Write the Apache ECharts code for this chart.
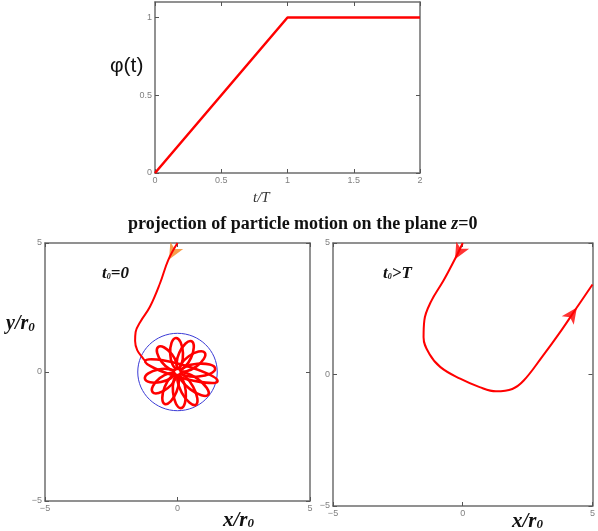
<!DOCTYPE html>
<html>
<head>
<meta charset="utf-8">
<script src="https://cdn.jsdelivr.net/npm/echarts@6/dist/echarts.min.js"></script>
<style>
  html, body { margin: 0; padding: 0; background: #fff; }
  #chart { width: 598px; height: 531px; }
</style>
</head>
<body>
<div id="chart"></div>
<script>
// phi(t) ramp
const phiT = [0, 1, 2];
const phiVal = [0, 1, 1];
const phiXTicks = [0, 0.5, 1, 1.5, 2];
const phiYTicks = [0, 0.5, 1];
const xyTicks = [-5, 0, 5];

// trajectory t0 = 0 (coming in from the top, then trapped)
const leftPath = [[0, 5], [-0.35, 4.34], [-0.66, 3.44], [-1.04, 2.53], [-1.4, 1.95],
  [-1.58, 1.55], [-1.6, 1.2], [-1.52, 0.85], [-1.3, 0.53], [-1.22, 0.43]];
// petals: [innerX, innerY, tipX, tipY]
const petals = [
  [-0.01, 0.12, -0.06, 1.32],
  [0.05, 0.11, 0.53, 1.19],
  [0.10, 0.07, 1.03, 0.75],
  [0.12, 0.01, 1.42, 0.13],
  [-1.22, 0.43, 1.51, -0.36],
  [0.10, -0.07, 1.16, -0.88],
  [0.06, -0.10, 0.69, -1.27],
  [0.01, -0.12, 0.13, -1.40],
  [-0.04, -0.11, -0.48, -1.24],
  [-0.09, -0.08, -0.94, -0.78],
  [-0.12, -0.03, -1.23, -0.26],
  [-0.07, 0.10, -0.73, 0.97]
];
const ringRadius = 1.5;
const leftArrows = [[-0.32, 4.36]];

// trajectory t0 > T (deflected)
const rightPath = [[0, 5], [-0.29, 4.41], [-0.73, 3.59], [-1.23, 2.76], [-1.48, 2.06],
  [-1.51, 1.42], [-1.29, 0.79], [-0.86, 0.28], [-0.1, -0.16], [0.65, -0.48],
  [1.28, -0.64], [1.91, -0.55], [2.35, -0.23], [3.05, 0.66], [3.8, 1.68],
  [4.37, 2.51], [5, 3.42]];
const rightArrowsDown = [[-0.3, 4.38]];
const rightArrowsUp = [[4.4, 2.55]];

const chart = echarts.init(document.getElementById('chart'));

function axis(grid, position, min, max, ticks, showLabel, fmt) {
  return {
    type: 'value', gridIndex: grid, position: position, min: min, max: max,
    splitLine: { show: false },
    axisLine: { show: true, onZero: false, lineStyle: { color: '#6e6e6e', width: 1.5 } },
    axisTick: { show: true, inside: true, length: 4, customValues: ticks,
      lineStyle: { color: '#555', width: 1 } },
    axisLabel: { show: showLabel, customValues: ticks, color: '#808080', fontSize: 9,
      fontFamily: 'Liberation Sans', margin: 3, formatter: fmt }
  };
}
const signFmt = v => (v < 0 ? '\u2212' + (-v) : String(v));

const serif = 'Liberation Serif';

function petalItem(params, api) {
  const a = api.coord([api.value(0), api.value(1)]);
  const b = api.coord([api.value(2), api.value(3)]);
  const dx = b[0] - a[0], dy = b[1] - a[1];
  return {
    type: 'ellipse',
    x: (a[0] + b[0]) / 2, y: (a[1] + b[1]) / 2,
    rotation: -Math.atan2(dy, dx),
    shape: { cx: 0, cy: 0, rx: Math.hypot(dx, dy) / 2, ry: 6.4 },
    style: { fill: 'none', stroke: '#ff0000', lineWidth: 2.6 }
  };
}

function ringItem(params, api) {
  const c = api.coord([api.value(0), api.value(1)]);
  const s = api.size([api.value(2), api.value(2)]);
  return {
    type: 'ellipse',
    shape: { cx: c[0], cy: c[1], rx: s[0], ry: s[1] },
    style: { fill: 'none', stroke: '#3b3bd6', lineWidth: 1 }
  };
}

const sub = (size, pad) => ({ fontFamily: serif, fontWeight: 'bold', fontStyle: 'italic',
  fontSize: size, fill: '#111', padding: [pad, 0, 0, 0] });
const main = size => ({ fontFamily: serif, fontWeight: 'bold', fontStyle: 'italic',
  fontSize: size, fill: '#111' });

chart.setOption({
  animation: false,
  backgroundColor: '#fff',
  grid: [
    { left: 155, top: 2, width: 265, height: 171 },
    { left: 45, top: 243, width: 265, height: 258 },
    { left: 333, top: 243, width: 264, height: 263 }
  ],
  xAxis: [
    axis(0, 'bottom', 0, 2, phiXTicks, true),
    axis(0, 'top', 0, 2, phiXTicks, false),
    axis(1, 'bottom', -5, 5, xyTicks, true, signFmt),
    axis(1, 'top', -5, 5, xyTicks, false),
    axis(2, 'bottom', -5, 5, xyTicks, true, signFmt),
    axis(2, 'top', -5, 5, xyTicks, false)
  ],
  yAxis: [
    axis(0, 'left', 0, 1.1, phiYTicks, true),
    axis(0, 'right', 0, 1.1, phiYTicks, false),
    axis(1, 'left', -5, 5, xyTicks, true, signFmt),
    axis(1, 'right', -5, 5, xyTicks, false),
    axis(2, 'left', -5, 5, xyTicks, true, signFmt),
    axis(2, 'right', -5, 5, xyTicks, false)
  ],
  graphic: [
    { type: 'text', left: 128, top: 215, style: {
      text: '{b|projection of particle motion on the plane }{i|z}{b|=0}',
      rich: {
        b: { fontFamily: serif, fontWeight: 'bold', fontSize: 18, fill: '#111' },
        i: { fontFamily: serif, fontWeight: 'bold', fontStyle: 'italic', fontSize: 18, fill: '#111' }
      } } },
    { type: 'text', left: 110, top: 56, style: {
      text: 'φ(t)', font: '21px "Liberation Sans"', fill: '#111' } },
    { type: 'text', left: 253, top: 191, style: {
      text: 't/T', font: 'italic 15px "Liberation Serif"', fill: '#333' } },
    { type: 'text', left: 6, top: 314, style: {
      text: '{m|y/r}{s|0}', rich: { m: main(20), s: sub(13, 7) } } },
    { type: 'text', left: 223, top: 510, style: {
      text: '{m|x/r}{s|0}', rich: { m: main(21), s: sub(13, 7) } } },
    { type: 'text', left: 512, top: 511, style: {
      text: '{m|x/r}{s|0}', rich: { m: main(21), s: sub(13, 7) } } },
    { type: 'text', left: 102, top: 265, style: {
      text: '{m|t}{s|0}{m|=0}', rich: { m: main(17), s: sub(8, 7) } } },
    { type: 'text', left: 383, top: 265, style: {
      text: '{m|t}{s|0}{m|>T}', rich: { m: main(17), s: sub(8, 7) } } }
  ],
  series: [
    {
      type: 'line', xAxisIndex: 0, yAxisIndex: 0, showSymbol: false,
      data: phiT.map((t, i) => [t, phiVal[i]]),
      lineStyle: { color: '#ff0000', width: 2.5 }
    },
    {
      type: 'custom', xAxisIndex: 2, yAxisIndex: 2, renderItem: ringItem,
      data: [[0, 0, ringRadius]]
    },
    {
      type: 'line', xAxisIndex: 2, yAxisIndex: 2, showSymbol: false, smooth: 0.4,
      data: leftPath, lineStyle: { color: '#ff0000', width: 2 }
    },
    {
      type: 'custom', xAxisIndex: 2, yAxisIndex: 2, renderItem: petalItem,
      data: petals
    },
    {
      type: 'scatter', xAxisIndex: 2, yAxisIndex: 2, symbol: 'arrow',
      symbolSize: [11, 16], symbolRotate: 151,
      itemStyle: { color: '#f5861f' }, data: leftArrows
    },
    {
      type: 'line', xAxisIndex: 4, yAxisIndex: 4, showSymbol: false, smooth: 0.4,
      data: rightPath, lineStyle: { color: '#ff0000', width: 2 }
    },
    {
      type: 'scatter', xAxisIndex: 4, yAxisIndex: 4, symbol: 'arrow',
      symbolSize: [11, 16], symbolRotate: 151,
      itemStyle: { color: '#ff0000' }, data: rightArrowsDown
    },
    {
      type: 'scatter', xAxisIndex: 4, yAxisIndex: 4, symbol: 'arrow',
      symbolSize: [11, 16], symbolRotate: -35,
      itemStyle: { color: '#ff0000' }, data: rightArrowsUp
    }
  ]
});
</script>
</body>
</html>
